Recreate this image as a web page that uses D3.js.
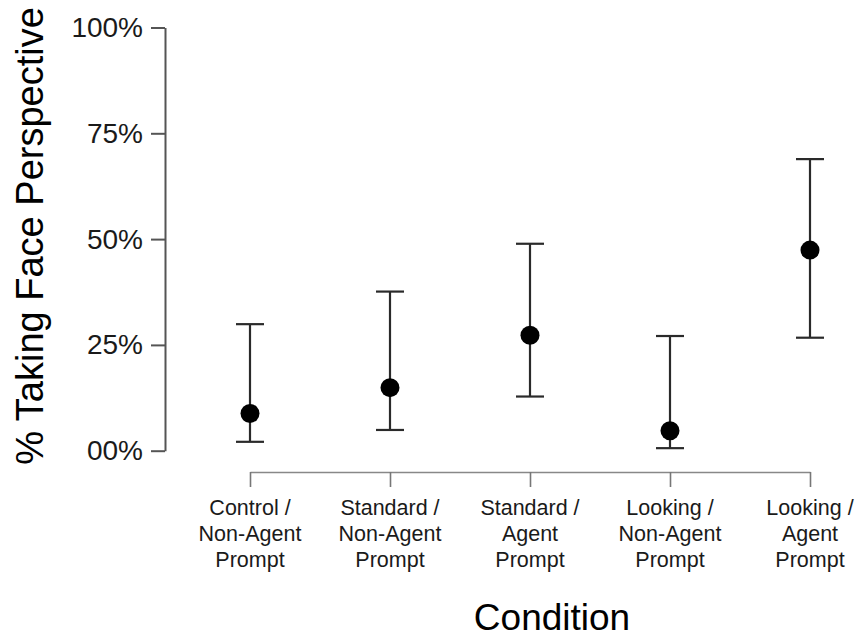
<!DOCTYPE html>
<html>
<head>
<meta charset="utf-8">
<script src="https://cdn.jsdelivr.net/npm/d3@7"></script>
<style>
  html, body { margin: 0; padding: 0; background: #fff; }
  svg { display: block; font-family: "Liberation Sans", Arial, sans-serif; }
</style>
</head>
<body>
<svg id="chart" width="864" height="638"></svg>
<script>
const categories = [
  ["Control /", "Non-Agent", "Prompt"],
  ["Standard /", "Non-Agent", "Prompt"],
  ["Standard /", "Agent", "Prompt"],
  ["Looking /", "Non-Agent", "Prompt"],
  ["Looking /", "Agent", "Prompt"]
];
const estimates = [8.8, 14.9, 27.3, 4.7, 47.4];
const lowerCI   = [2.1, 4.9, 12.8, 0.6, 26.7];
const upperCI   = [29.9, 37.6, 48.9, 27.1, 68.9];
const yTicks = [0, 25, 50, 75, 100];
const yTickLabels = ["00%", "25%", "50%", "75%", "100%"];

const svg = d3.select("#chart");

const y = d3.scaleLinear().domain([0, 100]).range([450.7, 27.5]);
const x = d3.scalePoint().domain(d3.range(categories.length)).range([250, 810]);

// Y axis
const yAxis = svg.append("g").attr("transform", "translate(165,0)")
  .call(d3.axisLeft(y).tickValues(yTicks).tickFormat((d, i) => yTickLabels[i]).tickSize(14).tickPadding(8).tickSizeOuter(0));
yAxis.select(".domain").attr("stroke", "#555").attr("stroke-width", 2);
yAxis.selectAll(".tick line").attr("stroke", "#555").attr("stroke-width", 2);
yAxis.selectAll(".tick text").attr("font-size", 28).attr("fill", "#1a1a1a")
  .attr("font-family", "'Liberation Sans', Arial, sans-serif");

// X axis
const xAxis = svg.append("g").attr("transform", "translate(0,472)")
  .call(d3.axisBottom(x).tickSize(15).tickSizeOuter(0).tickFormat(""));
xAxis.select(".domain").attr("stroke", "#888").attr("stroke-width", 1.6);
xAxis.selectAll(".tick line").attr("stroke", "#777").attr("stroke-width", 1.6);

// X tick labels (multi-line)
const lbl = svg.append("g");
categories.forEach((lines, i) => {
  const t = lbl.append("text")
    .attr("text-anchor", "middle")
    .attr("font-size", 21.5)
    .attr("fill", "#1a1a1a");
  lines.forEach((ln, j) => {
    t.append("tspan").attr("x", x(i)).attr("y", 515 + j * 25.8).text(ln);
  });
});

// Axis titles
svg.append("text")
  .attr("x", 552).attr("y", 630)
  .attr("text-anchor", "middle")
  .attr("font-size", 37)
  .attr("fill", "#000")
  .text("Condition");

svg.append("text")
  .attr("transform", "translate(43,236) rotate(-90)")
  .attr("text-anchor", "middle")
  .attr("font-size", 38)
  .attr("fill", "#000")
  .text("% Taking Face Perspective");

// Error bars
const eb = svg.append("g").attr("stroke", "#2a2a2a").attr("stroke-width", 2.2);
const idx = d3.range(estimates.length);
eb.selectAll("line.v").data(idx).join("line").attr("class", "v")
  .attr("x1", i => x(i)).attr("x2", i => x(i))
  .attr("y1", i => y(lowerCI[i])).attr("y2", i => y(upperCI[i]));
eb.selectAll("line.top").data(idx).join("line").attr("class", "top")
  .attr("x1", i => x(i) - 14).attr("x2", i => x(i) + 14)
  .attr("y1", i => y(upperCI[i])).attr("y2", i => y(upperCI[i]));
eb.selectAll("line.bot").data(idx).join("line").attr("class", "bot")
  .attr("x1", i => x(i) - 14).attr("x2", i => x(i) + 14)
  .attr("y1", i => y(lowerCI[i])).attr("y2", i => y(lowerCI[i]));

// Points
svg.append("g").selectAll("circle").data(idx).join("circle")
  .attr("cx", i => x(i)).attr("cy", i => y(estimates[i]))
  .attr("r", 9.5).attr("fill", "#000");
</script>
</body>
</html>
